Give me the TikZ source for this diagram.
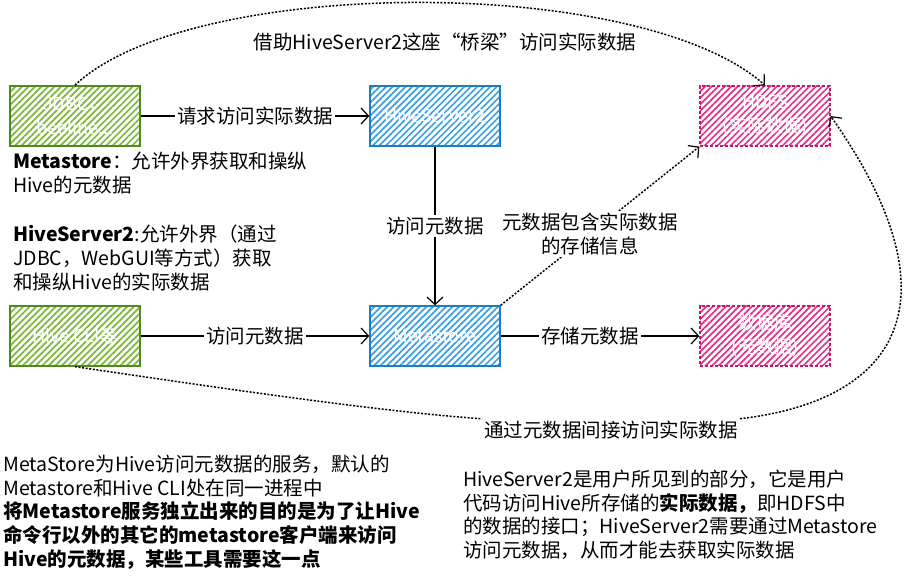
\documentclass[tikz,border=0pt]{standalone}
\usepackage{fontspec}
\setmainfont{Noto Sans CJK SC}
\usetikzlibrary{arrows.meta,patterns.meta}
\definecolor{gborder}{HTML}{4E8A1E}
\definecolor{ghatch}{HTML}{7DB83A}
\definecolor{bborder}{HTML}{1C7CC4}
\definecolor{bhatch}{HTML}{3CA0E4}
\definecolor{pborder}{HTML}{C8156E}
\definecolor{phatch}{HTML}{E0338A}
\begin{document}
\begin{tikzpicture}[x=1pt,y=-1pt,
  box/.style={minimum width=130pt,minimum height=60pt,inner sep=0pt,text=white,align=center,
    font=\fontsize{18}{24}\selectfont,line width=1.3pt},
  hatch/.style={pattern={Lines[angle=45,distance=4.6pt,line width=1.7pt]},pattern color=#1},
  gbox/.style={box,draw=gborder,hatch=ghatch},
  bbox/.style={box,draw=bborder,hatch=bhatch},
  pbox/.style={box,hatch=phatch,postaction={draw=pborder,line width=1.4pt,dash pattern=on 3pt off 2pt}},
  conn/.style={line width=1.2pt,-{Straight Barb[length=7.5pt,width=16pt,line width=1.2pt]}},
  dotconn/.style={conn,line width=1.5pt,dash pattern=on 2pt off 1.6pt},
  lbl/.style={fill=white,inner sep=2pt,font=\fontsize{19.5}{24}\selectfont},
  txt/.style={anchor=north west,align=left,inner sep=0pt,font=\fontsize{19.5}{23.6}\selectfont}]
\path[use as bounding box] (0,0) rectangle (906,577);

% boxes
\node[gbox] (jdbc) at (75,116) {JDBC，\\beeline...};
\node[bbox] (hs2) at (435,116) {HiveServer2};
\node[pbox] (hdfs) at (765,116) {HDFS\\(实际数据)};
\node[gbox] (cli) at (75,336) {Hive CLI等};
\node[bbox] (ms) at (435,336) {Metastore};
\node[pbox] (db) at (765,336) {数据库\\(元数据)};

% straight connectors
\draw[conn] (jdbc) -- node[lbl] {请求访问实际数据} (hs2);
\draw[conn] (cli) -- node[lbl] {访问元数据} (ms);
\draw[conn] (ms) -- node[lbl,pos=0.45] {存储元数据} (db);
\draw[conn] (hs2) -- node[lbl] {访问元数据} (ms);
\draw[dotconn] (ms.north east) -- node[lbl,align=center,font=\fontsize{19.5}{23.5}\selectfont,pos=0.45] {元数据包含实际数据\\的存储信息} (hdfs.south west);

% top curve
\draw[dotconn] (jdbc.north) .. controls (190,-24) and (640,-26) .. (hdfs.north);
\node[lbl,fill=none] (toplbl) at (445,42) {借助HiveServer2这座“桥梁”访问实际数据};

% bottom curve
\node[lbl] (botlbl) at (611,430) {通过元数据间接访问实际数据};
\draw[dotconn] (cli.south) .. controls (200,385) and (380,412) .. (botlbl.north west)
  (botlbl.north east) .. controls (900,400) and (960,300) .. (hdfs.east);

% texts
\node[txt] (t1) at (13,152) {\textbf{Metastore}：允许外界获取和操纵\\Hive的元数据};
\node[txt] (t2) at (13,225) {\textbf{HiveServer2}:允许外界（通过\\JDBC，WebGUI等方式）获取\\和操纵Hive的实际数据};
\node[txt] (t3) at (3,455) {MetaStore为Hive访问元数据的服务，默认的\\Metastore和Hive CLI处在同一进程中\\\textbf{将Metastore服务独立出来的目的是为了让Hive}\\\textbf{命令行以外的其它的metastore客户端来访问}\\\textbf{Hive的元数据，某些工具需要这一点}};
\node[txt] (t4) at (463,470) {HiveServer2是用户所见到的部分，它是用户\\代码访问Hive所存储的\textbf{实际数据，}即HDFS中\\的数据的接口；HiveServer2需要通过Metastore\\访问元数据，从而才能去获取实际数据};
\end{tikzpicture}
\end{document}
